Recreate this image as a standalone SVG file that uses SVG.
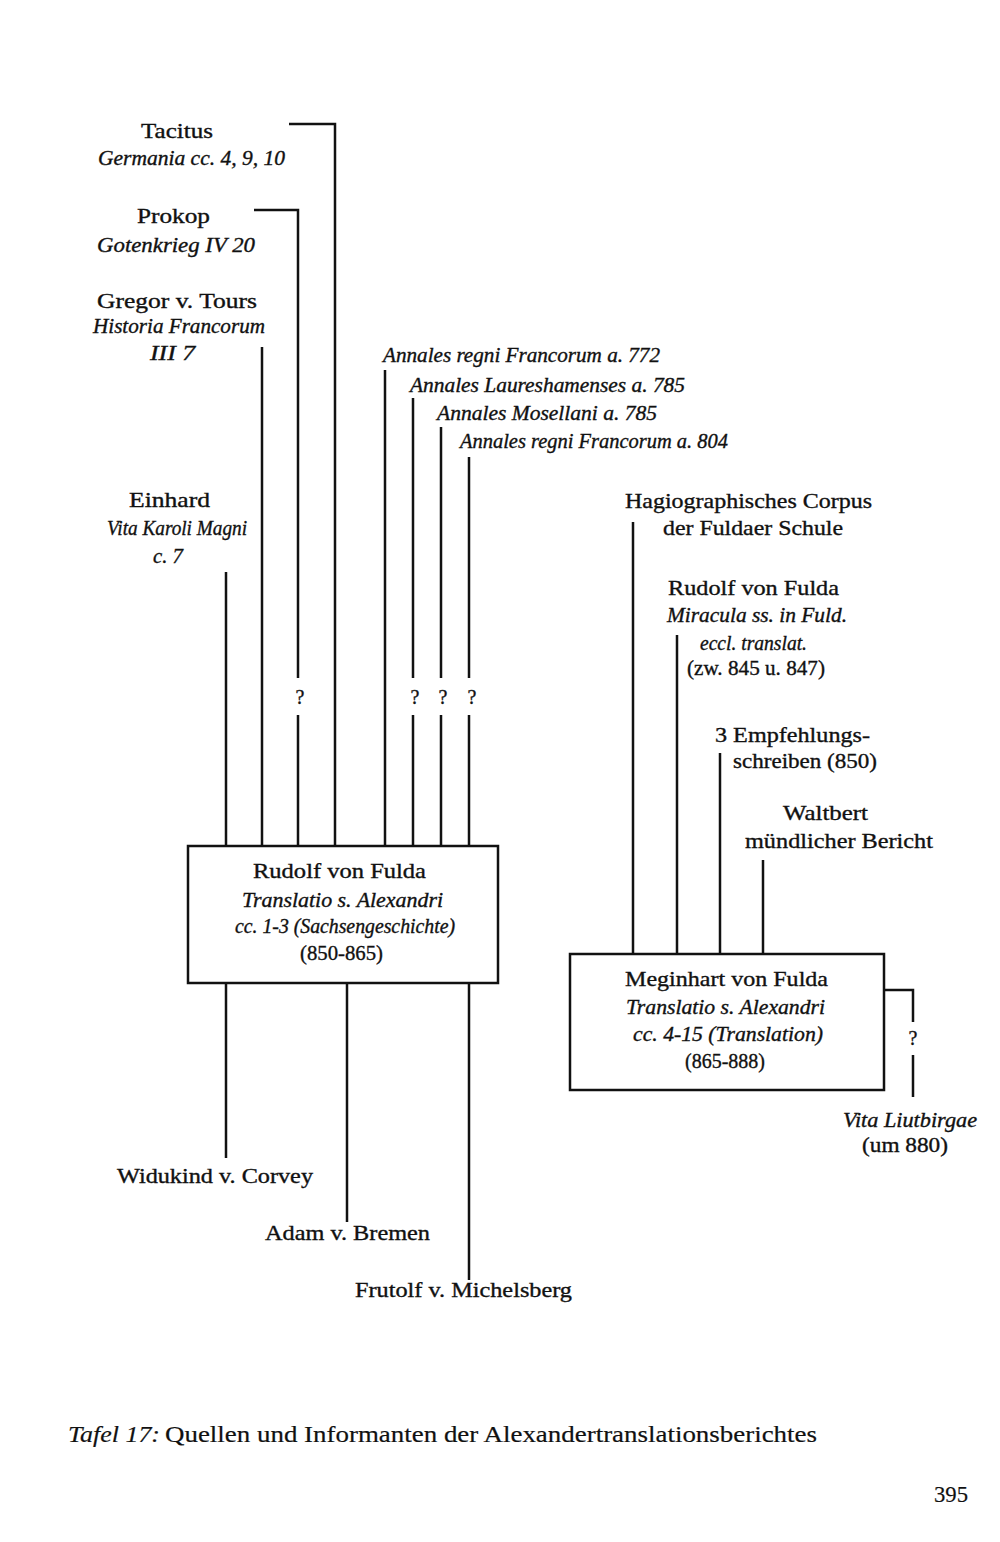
<svg xmlns="http://www.w3.org/2000/svg" width="1000" height="1542" viewBox="0 0 1000 1542">
<style>
text{font-family:"Liberation Serif","Times New Roman",serif;font-size:21px;fill:#111;stroke:#111;stroke-width:0.35;}
.i{font-style:italic;font-size:20px;}
.q{font-size:20px;text-anchor:middle;}
.cap{font-size:24px;stroke-width:0.2;}
.ln{fill:none;stroke:#111;stroke-width:2.5;}
.box{fill:none;stroke:#111;stroke-width:2.5;}
</style>
<rect width="1000" height="1542" fill="#fff"/>
<g id="connectors">
<path class="ln" d="M289,124 H335 V847"/>
<path class="ln" d="M254,210 H298 V678 M298,715 V847"/>
<path class="ln" d="M262,347 V847"/>
<path class="ln" d="M226,572 V847"/>
<path class="ln" d="M385,370 V847"/>
<path class="ln" d="M413,398 V678 M413,715 V847"/>
<path class="ln" d="M441,427 V678 M441,715 V847"/>
<path class="ln" d="M469,457 V678 M469,715 V847"/>
<path class="ln" d="M226,983 V1158"/>
<path class="ln" d="M347,983 V1222"/>
<path class="ln" d="M469,983 V1280"/>
<path class="ln" d="M633,522 V955"/>
<path class="ln" d="M677,635 V955"/>
<path class="ln" d="M720,753 V955"/>
<path class="ln" d="M763,860 V955"/>
<path class="ln" d="M884,990 H913 V1022 M913,1055 V1097"/>
<text class="q" x="300" y="704">?</text>
<text class="q" x="415" y="704">?</text>
<text class="q" x="443" y="704">?</text>
<text class="q" x="472" y="704">?</text>
<text class="q" x="913" y="1045">?</text>
</g>
<g id="tacitus">
<text x="141" y="138" textLength="72" lengthAdjust="spacingAndGlyphs">Tacitus</text>
<text class="i" x="98" y="165" textLength="187" lengthAdjust="spacingAndGlyphs">Germania cc. 4, 9, 10</text>
</g>
<g id="prokop">
<text x="137" y="223" textLength="73" lengthAdjust="spacingAndGlyphs">Prokop</text>
<text class="i" x="97" y="252" textLength="158" lengthAdjust="spacingAndGlyphs">Gotenkrieg IV 20</text>
</g>
<g id="gregor">
<text x="97" y="308" textLength="160" lengthAdjust="spacingAndGlyphs">Gregor v. Tours</text>
<text class="i" x="93" y="333" textLength="172" lengthAdjust="spacingAndGlyphs">Historia Francorum</text>
<text class="i" x="150" y="360" textLength="45" lengthAdjust="spacingAndGlyphs">III 7</text>
</g>
<g id="annales772">
<text class="i" x="383" y="362" textLength="277" lengthAdjust="spacingAndGlyphs">Annales regni Francorum a. 772</text>
</g>
<g id="annales-lauresh">
<text class="i" x="410" y="392" textLength="275" lengthAdjust="spacingAndGlyphs">Annales Laureshamenses a. 785</text>
</g>
<g id="annales-mosell">
<text class="i" x="437" y="420" textLength="220" lengthAdjust="spacingAndGlyphs">Annales Mosellani a. 785</text>
</g>
<g id="annales804">
<text class="i" x="460" y="448" textLength="268" lengthAdjust="spacingAndGlyphs">Annales regni Francorum a. 804</text>
</g>
<g id="einhard">
<text x="129" y="507" textLength="81" lengthAdjust="spacingAndGlyphs">Einhard</text>
<text class="i" x="107" y="535" textLength="140" lengthAdjust="spacingAndGlyphs">Vita Karoli Magni</text>
<text class="i" x="153" y="563" textLength="30" lengthAdjust="spacingAndGlyphs">c. 7</text>
</g>
<g id="hagio">
<text x="625" y="508" textLength="247" lengthAdjust="spacingAndGlyphs">Hagiographisches Corpus</text>
<text x="663" y="535" textLength="180" lengthAdjust="spacingAndGlyphs">der Fuldaer Schule</text>
</g>
<g id="rudolf-miracula">
<text x="668" y="595" textLength="171" lengthAdjust="spacingAndGlyphs">Rudolf von Fulda</text>
<text class="i" x="667" y="622" textLength="180" lengthAdjust="spacingAndGlyphs">Miracula ss. in Fuld.</text>
<text class="i" x="700" y="650" textLength="107" lengthAdjust="spacingAndGlyphs">eccl. translat.</text>
<text x="687" y="675" textLength="138" lengthAdjust="spacingAndGlyphs">(zw. 845 u. 847)</text>
</g>
<g id="empfehlung">
<text x="715" y="742" textLength="155" lengthAdjust="spacingAndGlyphs">3 Empfehlungs-</text>
<text x="733" y="768" textLength="144" lengthAdjust="spacingAndGlyphs">schreiben (850)</text>
</g>
<g id="waltbert">
<text x="783" y="820" textLength="85" lengthAdjust="spacingAndGlyphs">Waltbert</text>
<text x="745" y="848" textLength="188" lengthAdjust="spacingAndGlyphs">mündlicher Bericht</text>
</g>
<g id="rudolf-translatio">
<rect class="box" x="188" y="846" width="310" height="137"/>
<text x="253" y="878" textLength="173" lengthAdjust="spacingAndGlyphs">Rudolf von Fulda</text>
<text class="i" x="242" y="907" textLength="201" lengthAdjust="spacingAndGlyphs">Translatio s. Alexandri</text>
<text class="i" x="235" y="933" textLength="220" lengthAdjust="spacingAndGlyphs">cc. 1-3 (Sachsengeschichte)</text>
<text x="300" y="960" textLength="83" lengthAdjust="spacingAndGlyphs">(850-865)</text>
</g>
<g id="meginhart">
<rect class="box" x="570" y="954" width="314" height="136"/>
<text x="625" y="986" textLength="203" lengthAdjust="spacingAndGlyphs">Meginhart von Fulda</text>
<text class="i" x="626" y="1014" textLength="199" lengthAdjust="spacingAndGlyphs">Translatio s. Alexandri</text>
<text class="i" x="633" y="1041" textLength="190" lengthAdjust="spacingAndGlyphs">cc. 4-15 (Translation)</text>
<text x="685" y="1068" textLength="80" lengthAdjust="spacingAndGlyphs">(865-888)</text>
</g>
<g id="liutbirga">
<text class="i" x="843" y="1127" textLength="134" lengthAdjust="spacingAndGlyphs">Vita Liutbirgae</text>
<text x="862" y="1152" textLength="86" lengthAdjust="spacingAndGlyphs">(um 880)</text>
</g>
<g id="widukind">
<text x="117" y="1183" textLength="196" lengthAdjust="spacingAndGlyphs">Widukind v. Corvey</text>
</g>
<g id="adam">
<text x="265" y="1240" textLength="165" lengthAdjust="spacingAndGlyphs">Adam v. Bremen</text>
</g>
<g id="frutolf">
<text x="355" y="1297" textLength="217" lengthAdjust="spacingAndGlyphs">Frutolf v. Michelsberg</text>
</g>
<g id="caption">
<text class="cap" x="68" y="1442" font-style="italic" textLength="92" lengthAdjust="spacingAndGlyphs">Tafel 17:</text>
<text class="cap" x="165" y="1442" textLength="652" lengthAdjust="spacingAndGlyphs">Quellen und Informanten der Alexandertranslationsberichtes</text>
<text class="cap" x="934" y="1502" textLength="34" lengthAdjust="spacingAndGlyphs">395</text>
</g>
</svg>
